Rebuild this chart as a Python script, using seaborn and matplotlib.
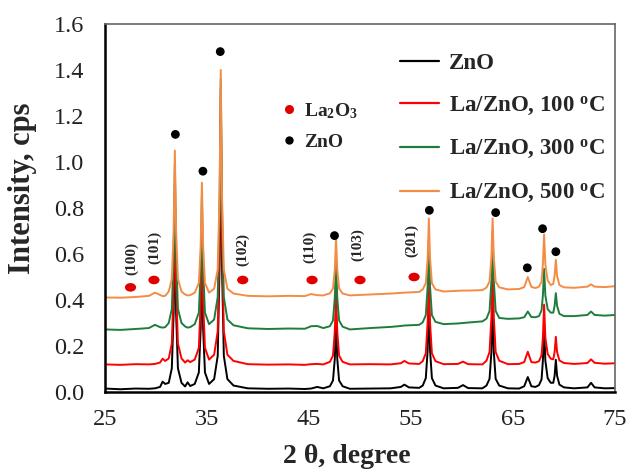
import numpy as np
import pandas as pd
import matplotlib
matplotlib.use("Agg")
import matplotlib.pyplot as plt
import seaborn as sns
from matplotlib.lines import Line2D
from matplotlib.path import Path
from matplotlib.transforms import Affine2D

# ---------------- data ----------------
theta = [25.0, 26.5, 28.0, 29.3, 29.9, 30.4, 30.65, 30.9, 31.25, 31.55,
         31.73, 31.85, 31.97, 32.15, 32.5, 32.85, 33.1, 33.35, 33.8, 34.2,
         34.38, 34.5, 34.62, 34.8, 35.2, 35.7, 36.05, 36.23, 36.35, 36.47,
         36.65, 37.0, 37.6, 39.0, 41.0, 43.0, 44.6, 45.2, 45.8, 46.4,
         47.05, 47.35, 47.53, 47.65, 47.77, 47.95, 48.3, 49.0, 51.0, 53.0,
         54.0, 54.35, 54.8, 55.8, 56.15, 56.45, 56.63, 56.75, 56.87, 57.05,
         57.4, 58.2, 59.6, 60.1, 60.6, 62.0, 62.4, 62.7, 62.88, 63.0,
         63.12, 63.3, 63.65, 64.5, 65.6, 66.1, 66.45, 66.8, 67.2, 67.55,
         67.8, 67.93, 68.05, 68.17, 68.4, 68.7, 68.95, 69.08, 69.2, 69.32,
         69.55, 70.0, 71.0, 72.3, 72.65, 73.0, 74.0, 75.0]

zno = [0.015, 0.012, 0.015, 0.014, 0.016, 0.022, 0.045, 0.035, 0.040, 0.103,
       0.344, 0.745, 0.344, 0.103, 0.040, 0.024, 0.042, 0.026, 0.035, 0.085,
       0.276, 0.595, 0.276, 0.085, 0.035, 0.056, 0.157, 0.546, 1.195, 0.546,
       0.157, 0.056, 0.028, 0.016, 0.014, 0.015, 0.013, 0.015, 0.022, 0.016,
       0.025, 0.050, 0.145, 0.305, 0.145, 0.050, 0.025, 0.014, 0.015, 0.016,
       0.022, 0.032, 0.020, 0.018, 0.028, 0.060, 0.180, 0.385, 0.180, 0.060,
       0.028, 0.016, 0.018, 0.030, 0.017, 0.016, 0.028, 0.057, 0.172, 0.365,
       0.172, 0.057, 0.028, 0.016, 0.015, 0.025, 0.065, 0.025, 0.022, 0.030,
       0.055, 0.137, 0.285, 0.137, 0.060, 0.040, 0.040, 0.071, 0.140, 0.071,
       0.032, 0.020, 0.016, 0.020, 0.040, 0.020, 0.016, 0.017]

la_100 = [0.120, 0.118, 0.121, 0.120, 0.122, 0.128, 0.145, 0.135, 0.146, 0.210,
          0.458, 0.870, 0.458, 0.210, 0.146, 0.128, 0.138, 0.130, 0.141, 0.192,
          0.390, 0.720, 0.390, 0.192, 0.141, 0.162, 0.264, 0.660, 1.320, 0.660,
          0.264, 0.162, 0.135, 0.121, 0.119, 0.120, 0.118, 0.121, 0.122, 0.120,
          0.131, 0.158, 0.264, 0.440, 0.264, 0.158, 0.131, 0.120, 0.121, 0.120,
          0.125, 0.135, 0.124, 0.122, 0.134, 0.168, 0.300, 0.520, 0.300, 0.168,
          0.134, 0.121, 0.122, 0.132, 0.121, 0.120, 0.136, 0.174, 0.323, 0.570,
          0.323, 0.174, 0.136, 0.121, 0.122, 0.130, 0.175, 0.130, 0.128, 0.134,
          0.160, 0.237, 0.380, 0.237, 0.165, 0.145, 0.142, 0.174, 0.240, 0.174,
          0.137, 0.126, 0.122, 0.126, 0.142, 0.127, 0.123, 0.125]

la_300 = [0.272, 0.270, 0.274, 0.278, 0.292, 0.282, 0.280, 0.282, 0.300, 0.361,
          0.600, 0.995, 0.600, 0.361, 0.300, 0.285, 0.280, 0.282, 0.295, 0.345,
          0.535, 0.855, 0.535, 0.345, 0.295, 0.315, 0.413, 0.795, 1.360, 0.795,
          0.413, 0.315, 0.290, 0.277, 0.274, 0.276, 0.275, 0.286, 0.287, 0.278,
          0.286, 0.311, 0.410, 0.575, 0.410, 0.311, 0.284, 0.272, 0.278, 0.283,
          0.287, 0.289, 0.290, 0.292, 0.303, 0.334, 0.457, 0.660, 0.457, 0.334,
          0.305, 0.295, 0.298, 0.300, 0.302, 0.307, 0.319, 0.352, 0.481, 0.700,
          0.481, 0.352, 0.322, 0.318, 0.320, 0.325, 0.350, 0.326, 0.325, 0.330,
          0.355, 0.420, 0.535, 0.420, 0.360, 0.345, 0.345, 0.375, 0.430, 0.375,
          0.340, 0.330, 0.330, 0.335, 0.350, 0.335, 0.332, 0.335]

la_500 = [0.411, 0.410, 0.413, 0.418, 0.432, 0.422, 0.417, 0.418, 0.437, 0.491,
          0.700, 1.050, 0.700, 0.491, 0.437, 0.424, 0.420, 0.421, 0.432, 0.474,
          0.635, 0.910, 0.635, 0.474, 0.432, 0.449, 0.533, 0.856, 1.400, 0.856,
          0.533, 0.449, 0.428, 0.418, 0.416, 0.418, 0.417, 0.426, 0.421, 0.420,
          0.429, 0.450, 0.532, 0.670, 0.532, 0.450, 0.428, 0.420, 0.424, 0.428,
          0.431, 0.432, 0.433, 0.435, 0.446, 0.473, 0.579, 0.755, 0.579, 0.473,
          0.446, 0.437, 0.440, 0.441, 0.441, 0.443, 0.454, 0.480, 0.583, 0.755,
          0.583, 0.480, 0.455, 0.446, 0.448, 0.456, 0.500, 0.457, 0.452, 0.458,
          0.480, 0.555, 0.685, 0.555, 0.485, 0.465, 0.470, 0.505, 0.575, 0.505,
          0.465, 0.455, 0.453, 0.458, 0.468, 0.458, 0.456, 0.460]

series_names = ["ZnO", "La/ZnO, 100 oC", "La/ZnO, 300 oC", "La/ZnO, 500 oC"]
series_labels = ["ZnO",
                 r"La/ZnO, 100 $^{\mathbf{o}}$C",
                 r"La/ZnO, 300 $^{\mathbf{o}}$C",
                 r"La/ZnO, 500 $^{\mathbf{o}}$C"]
series_colors = ["#000000", "#FF0000", "#1E7D3C", "#F58C46"]

# ZnO reflection markers (black dots)
zno_mark_x = [31.9, 34.6, 36.3, 47.5, 56.8, 63.3, 66.4, 67.9, 69.2]
zno_mark_y = [1.12, 0.96, 1.48, 0.68, 0.79, 0.78, 0.54, 0.71, 0.61]

# La2O3 reflection markers (red dots) and hkl labels
la_mark_x = [27.5, 29.8, 38.5, 45.3, 50.0, 55.3]
la_mark_y = [0.455, 0.487, 0.487, 0.487, 0.487, 0.50]
la_hkl = ["(100)", "(101)", "(102)", "(110)", "(103)", "(201)"]
la_hkl_x = [27.6, 29.9, 38.5, 45.1, 49.8, 55.1]
la_hkl_y = [0.58, 0.63, 0.62, 0.63, 0.64, 0.66]

x_ticks = [25, 35, 45, 55, 65, 75]
y_ticks = [0.0, 0.2, 0.4, 0.6, 0.8, 1.0, 1.2, 1.4, 1.6]

# ---------------- figure ----------------
sns.set_theme(style="white")
plt.rcParams["font.family"] = ["Liberation Serif", "DejaVu Serif"]
plt.rcParams["mathtext.fontset"] = "custom"
plt.rcParams["mathtext.rm"] = "Liberation Serif"
plt.rcParams["mathtext.bf"] = "Liberation Serif:bold"
plt.rcParams["mathtext.it"] = "Liberation Serif:italic"

for arr in (zno, la_100, la_300, la_500):
    assert len(arr) == len(theta)

frames = []
for name, ys in zip(series_names, [zno, la_100, la_300, la_500]):
    frames.append(pd.DataFrame({"theta": theta, "intensity": ys, "sample": name}))
df = pd.concat(frames, ignore_index=True)

fig = plt.figure(figsize=(6.3, 4.72), dpi=100)
ax = fig.add_axes([105 / 630, 80 / 472, 510 / 630, 368 / 472])

sns.lineplot(data=df, x="theta", y="intensity", hue="sample",
             hue_order=series_names, palette=series_colors,
             estimator=None, sort=False, linewidth=1.4, legend=False, ax=ax)

# markers
sns.scatterplot(x=zno_mark_x, y=zno_mark_y, color="black", s=40,
                edgecolor="none", ax=ax, zorder=5)
ell = Path.unit_circle().transformed(Affine2D().scale(1.3, 1.0))
sns.scatterplot(x=la_mark_x, y=la_mark_y, color="#E00000", s=65, marker=ell,
                edgecolor="none", ax=ax, zorder=5)
for lbl, hx, hy in zip(la_hkl, la_hkl_x, la_hkl_y):
    ax.text(hx, hy, lbl, rotation=90, ha="center", va="center",
            fontsize=11, fontweight="bold")

ax.set_xlim(25, 75)
ax.set_ylim(0, 1.6)
ax.set_xticks(x_ticks)
ax.set_yticks(y_ticks)
ax.set_xticklabels([str(t) for t in x_ticks])
ax.set_yticklabels([f"{t:.1f}" for t in y_ticks])
ax.tick_params(axis="both", direction="in", length=6, width=1.2,
               labelsize=17.5, colors="black", labelcolor="#222222")
ax.tick_params(axis="x", pad=12)
ax.tick_params(axis="y", pad=15)
ax.tick_params(top=False, right=False)

for side in ("left", "bottom"):
    ax.spines[side].set_color("black")
    ax.spines[side].set_linewidth(1.8)
for side in ("top", "right"):
    ax.spines[side].set_color("#666666")
    ax.spines[side].set_linewidth(1.2)

ax.set_xlabel("2 θ, degree", fontsize=20, fontweight="bold")
ax.set_ylabel("Intensity, cps", fontsize=22, fontweight="bold")
ax.xaxis.set_label_coords(0.4745, -0.141)
ax.yaxis.set_label_coords(-0.133, 0.554)

# line legend
handles = [Line2D([0], [0], color=c, lw=1.6) for c in series_colors]
leg = ax.legend(handles, series_labels, loc="upper left",
                bbox_to_anchor=(400 / 630, 1 - 53 / 472),
                bbox_transform=fig.transFigure, frameon=False,
                prop={"family": "Liberation Serif", "weight": "bold", "size": 16.5},
                handlelength=1.7, handletextpad=0.45, labelspacing=0.9,
                borderpad=0, borderaxespad=0)
ax.add_artist(leg)

# marker legend
mhandles = [Line2D([0], [0], marker="o", color="none", markerfacecolor="#E00000",
                   markeredgecolor="none", markersize=6.5),
            Line2D([0], [0], marker="o", color="none", markerfacecolor="black",
                   markeredgecolor="none", markersize=6)]
mleg = ax.legend(mhandles, [r"La$_{\mathbf{2}}$O$_{\mathbf{3}}$", "ZnO"],
                 loc="upper left", bbox_to_anchor=(283 / 630, 1 - 101 / 472),
                 bbox_transform=fig.transFigure, frameon=False,
                 prop={"family": "Liberation Serif", "weight": "bold", "size": 14},
                 handlelength=0.6, handletextpad=0.5, labelspacing=0.66,
                 borderpad=0, borderaxespad=0)

fig.savefig("out.png", dpi=100)
